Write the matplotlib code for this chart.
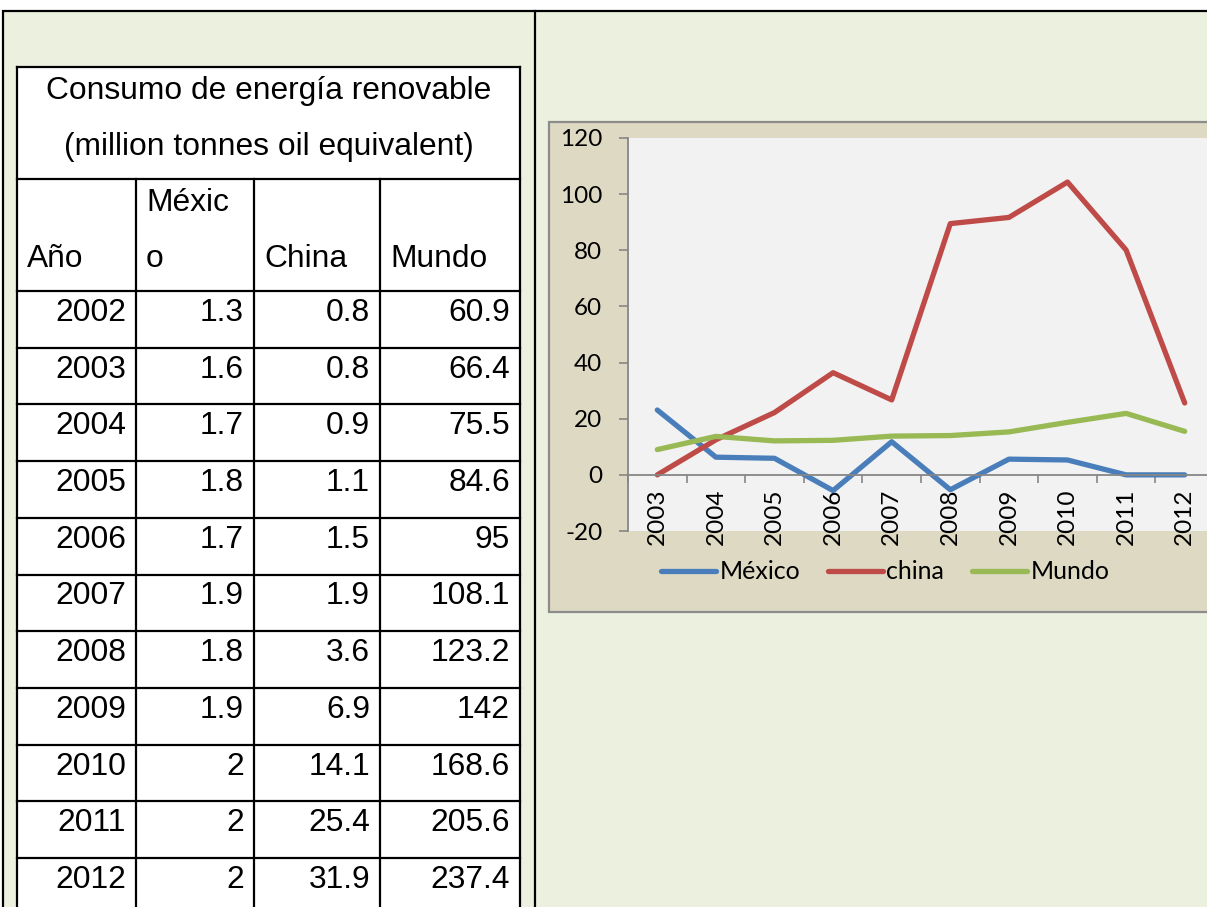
import matplotlib
matplotlib.use("Agg")
import matplotlib.pyplot as plt
from matplotlib.patches import Rectangle
import numpy as np

# Table: renewable energy consumption (million tonnes oil equivalent)
table_years = [2002, 2003, 2004, 2005, 2006, 2007, 2008, 2009, 2010, 2011, 2012]
mexico = [1.3, 1.6, 1.7, 1.8, 1.7, 1.9, 1.8, 1.9, 2, 2, 2]
china = [0.8, 0.8, 0.9, 1.1, 1.5, 1.9, 3.6, 6.9, 14.1, 25.4, 31.9]
mundo = [60.9, 66.4, 75.5, 84.6, 95, 108.1, 123.2, 142, 168.6, 205.6, 237.4]

# Chart: yearly change (%)
chart_years = ["2003", "2004", "2005", "2006", "2007", "2008", "2009", "2010", "2011", "2012"]
mexico_pct = [23.1, 6.3, 5.9, -5.6, 11.8, -5.3, 5.6, 5.3, 0, 0]
china_pct = [0, 12.5, 22.2, 36.4, 26.7, 89.5, 91.7, 104.3, 80.1, 25.6]
mundo_pct = [9.0, 13.7, 12.1, 12.3, 13.8, 14.0, 15.3, 18.7, 21.9, 15.5]

plt.rcParams["axes.unicode_minus"] = False

W, H = 1207, 907
fig = plt.figure(figsize=(W / 100, H / 100), dpi=100)
fig.patch.set_facecolor("white")

# background layer in pixel coordinates
bg = fig.add_axes([0, 0, 1, 1])
bg.set_xlim(0, W)
bg.set_ylim(H, 0)
bg.axis("off")

bg.add_patch(Rectangle((3, 11), 1220, 910, facecolor="#EBF1DE", edgecolor="black", lw=1.6))
bg.plot([535, 535], [11, H + 5], color="black", lw=1.6)

# table
tfont = "Liberation Sans"
fs = 22.9
col_x = [17, 136, 254, 380, 520]
row_h = 56.7
data_top = 291
bg.add_patch(Rectangle((17, 67), 503, 860, facecolor="white", edgecolor="none"))
for y in [67, 179] + [data_top + i * row_h for i in range(len(table_years) + 1)]:
    bg.plot([17, 520], [y, y], color="black", lw=1.6, solid_capstyle="projecting")
for x in [17, 520]:
    bg.plot([x, x], [67, H + 5], color="black", lw=1.6)
for x in col_x[1:4]:
    bg.plot([x, x], [179, H + 5], color="black", lw=1.6)

bg.text(268.5, 99, "Consumo de energía renovable", fontsize=fs, family=tfont, ha="center", va="baseline")
bg.text(268.5, 155, "(million tonnes oil equivalent)", fontsize=fs, family=tfont, ha="center", va="baseline")
bg.text(col_x[0] + 10, 267, "Año", fontsize=fs, family=tfont, va="baseline")
bg.text(col_x[1] + 10, 211, "Méxic", fontsize=fs, family=tfont, va="baseline")
bg.text(col_x[1] + 10, 267, "o", fontsize=fs, family=tfont, va="baseline")
bg.text(col_x[2] + 10, 267, "China", fontsize=fs, family=tfont, va="baseline")
bg.text(col_x[3] + 10, 267, "Mundo", fontsize=fs, family=tfont, va="baseline")

for i, row in enumerate(zip(table_years, mexico, china, mundo)):
    yb = data_top + i * row_h + 30
    for j, v in enumerate(row):
        bg.text(col_x[j + 1] - 10, yb, f"{v:g}", fontsize=fs, family=tfont, ha="right", va="baseline")

# chart area
bg.add_patch(Rectangle((549, 122), 700, 490, facecolor="#DDD9C3", edgecolor="#8C8C8C", lw=1.6))

ax = fig.add_axes([628 / W, (H - 531) / H, 586 / W, 393 / H])
ax.set_facecolor("#F2F2F2")

x = np.arange(len(chart_years))
ax.plot(x, mexico_pct, color="#4A7EBB", lw=3.8, label="México", solid_capstyle="round", solid_joinstyle="round")
ax.plot(x, china_pct, color="#BE4B48", lw=3.8, label="china", solid_capstyle="round", solid_joinstyle="round")
ax.plot(x, mundo_pct, color="#98B954", lw=3.8, label="Mundo", solid_capstyle="round", solid_joinstyle="round")

ax.set_xlim(-0.5, 9.5)
ax.set_ylim(-20, 120)
ax.set_yticks(range(-20, 121, 20))

for s in ["top", "right"]:
    ax.spines[s].set_visible(False)
ax.spines["bottom"].set_position(("data", 0))
ax.spines["bottom"].set_color("#868686")
ax.spines["left"].set_color("#868686")
ax.spines["bottom"].set_linewidth(1.3)
ax.spines["left"].set_linewidth(1.3)

cfont = "Lato"
cfs = 17.5
ax.set_xticks(x)
ax.set_xticklabels(chart_years, rotation=90, fontsize=cfs, family=cfont)
ax.set_xticks(np.arange(-0.5, 10, 1), minor=True)
ax.tick_params(axis="x", which="major", length=0, pad=10)
ax.tick_params(axis="x", which="minor", length=5.5, width=1.2, color="#868686", direction="out")
ax.tick_params(axis="y", length=6.5, width=1.2, color="#868686", direction="out", pad=12, labelsize=cfs)
for lab in ax.get_yticklabels():
    lab.set_family(cfont)

ax.legend(loc="center", bbox_to_anchor=(0.4386, -0.104), ncol=3, frameon=False,
          prop={"family": cfont, "size": cfs + 0.5}, handlelength=2.2, handletextpad=0.15,
          columnspacing=1.1)

fig.savefig("out.png", dpi=100)
